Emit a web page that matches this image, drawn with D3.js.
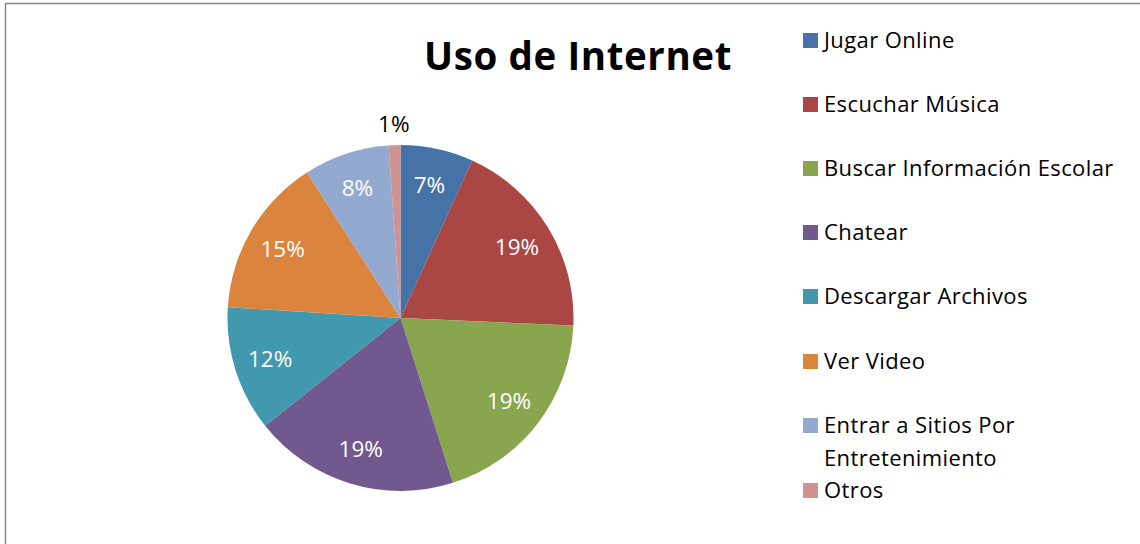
<!DOCTYPE html>
<html>
<head>
<meta charset="utf-8">
<script src="https://cdn.jsdelivr.net/npm/d3@7"></script>
<style>
  body { margin: 0; background: #fff; }
  svg text { font-family: "Open Sans", Lato, sans-serif; }
</style>
</head>
<body>
<div id="chart"></div>
<script>
/* DATA */
const categories = ["Jugar Online", "Escuchar Música", "Buscar Información Escolar", "Chatear",
  "Descargar Archivos", "Ver Video", "Entrar a Sitios Por Entretenimiento", "Otros"];
const values = [6.8, 18.9, 19.4, 19.2, 11.7, 14.9, 8.0, 1.1];
const colors = ["#4572A7", "#AA4643", "#89A54E", "#71588F", "#4198AF", "#DB843D", "#93A9CF", "#D19392"];
const title = "Uso de Internet";

/* CONSTANTS */
const width = 1140, height = 544;
const cx = 400.5, cy = 318, radius = 173;

const svg = d3.select("#chart").append("svg")
  .attr("width", width)
  .attr("height", height);

// chart border
svg.append("rect")
  .attr("x", 5.5).attr("y", 3.5)
  .attr("width", width).attr("height", height)
  .attr("fill", "#fff")
  .attr("stroke", "#888")
  .attr("stroke-width", 1.5);

const data = categories.map((c, i) => ({ name: c, value: values[i] }));
const total = d3.sum(values);

const color = d3.scaleOrdinal().domain(categories).range(colors);

const pie = d3.pie().sort(null).value(d => d.value);
const arc = d3.arc().innerRadius(0).outerRadius(radius);
const labelArc = d3.arc().innerRadius(radius * 0.79).outerRadius(radius * 0.79);
const outerArc = d3.arc().innerRadius(radius * 1.12).outerRadius(radius * 1.12);

const g = svg.append("g").attr("transform", `translate(${cx},${cy})`);
const arcs = pie(data);

g.selectAll("path")
  .data(arcs)
  .join("path")
  .attr("d", arc)
  .attr("fill", d => color(d.data.name));

// percent labels
g.selectAll("text.pct")
  .data(arcs)
  .join("text")
  .attr("class", "pct")
  .attr("transform", d => {
    const small = d.data.value / total < 0.03;
    return `translate(${(small ? outerArc : labelArc).centroid(d)})`;
  })
  .attr("text-anchor", "middle")
  .attr("dy", "0.36em")
  .attr("font-size", 22.5)
  .attr("fill", d => d.data.value / total < 0.03 ? "#000" : "#fff")
  .text(d => Math.round(d.data.value / total * 100) + "%");

// title
svg.append("text")
  .attr("x", 578).attr("y", 70)
  .attr("text-anchor", "middle")
  .attr("font-size", 38.5)
  .attr("font-weight", "bold")
  .attr("letter-spacing", 0.6)
  .attr("fill", "#000")
  .text(title);

// legend
const legendRowY = [40, 104, 168, 232, 296, 361, 425, 490];
const legend = svg.append("g").attr("class", "legend");
const items = legend.selectAll("g")
  .data(categories)
  .join("g")
  .attr("transform", (d, i) => `translate(803, ${legendRowY[i]})`);

items.append("rect")
  .attr("x", 0).attr("y", -7)
  .attr("width", 15).attr("height", 15)
  .attr("fill", d => color(d));

items.append("text")
  .attr("x", 21)
  .attr("dy", "0.36em")
  .attr("font-size", 22)
  .attr("letter-spacing", 0.4)
  .attr("fill", "#000")
  .each(function(d) {
    const t = d3.select(this);
    if (d === "Entrar a Sitios Por Entretenimiento") {
      t.append("tspan").attr("x", 21).text("Entrar a Sitios Por");
      t.append("tspan").attr("x", 21).attr("dy", 33).text("Entretenimiento");
    } else {
      t.text(d);
    }
  });
</script>
</body>
</html>
